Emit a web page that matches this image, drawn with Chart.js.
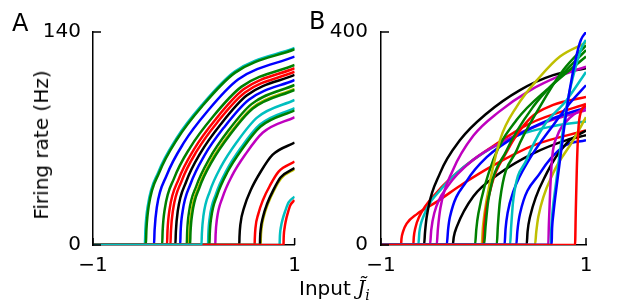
<!DOCTYPE html>
<html>
<head>
<meta charset="utf-8">
<script src="https://cdn.jsdelivr.net/npm/chart.js@4.4.0/dist/chart.umd.min.js"></script>
<style>
  body { margin: 0; background: #fff; }
  #wrap { position: relative; width: 617px; height: 308px; overflow: hidden; font-family: 'DejaVu Sans', sans-serif; color: #000; }
  canvas { position: absolute; top: 0; }
  .lbl { position: absolute; white-space: nowrap; line-height: 1; }
  .math { font-family: 'DejaVu Serif', serif; font-style: italic; }
</style>
</head>
<body>
<div id="wrap">
  <canvas id="chartA" width="310" height="308" style="left:0px"></canvas>
  <canvas id="chartB" width="317" height="308" style="left:300px"></canvas>
  <div class="lbl" style="left:12px; top:11px; font-size:24px">A</div>
  <div class="lbl" style="left:309px; top:9px; font-size:24px">B</div>
  <div class="lbl" style="left:41px; top:145px; font-size:20px; transform:translate(-50%,-50%) rotate(-90deg)">Firing rate (Hz)</div>
  <div class="lbl" style="left:299px; top:278px; font-size:20px">Input <span class="math">J&#771;</span><sub class="math" style="font-size:14px">i</sub></div>
</div>
<script>
// tick values
var xTicks = [-1, 1];
var yTicksA = [0, 140];
var yTicksB = [0, 400];

// Panel A: firing rate (Hz) vs input, one array per neuron, [input, rate]
var a00 = [[-1,0],[-0.486,0],[-0.48,10.4],[-0.456,25.9],[-0.352,47.9],[-0.174,69.9],[0.079,91.9],[0.406,114],[1,129.5]];
var a01 = [[-1,0],[-0.476,0],[-0.47,10.3],[-0.447,25.7],[-0.343,47.6],[-0.166,69.5],[0.085,91.4],[0.41,113.3],[1,128.7]];
var a02 = [[-1,0],[-0.395,0],[-0.389,9.9],[-0.367,24.8],[-0.269,45.8],[-0.102,66.9],[0.135,87.9],[0.442,108.9],[1,123.8]];
var a03 = [[-1,0],[-0.314,0],[-0.309,9.5],[-0.288,23.7],[-0.196,43.8],[-0.038,63.9],[0.185,84],[0.474,104.1],[1,118.3]];
var a04 = [[-1,0],[-0.266,0],[-0.261,9.3],[-0.241,23.2],[-0.152,43],[0,62.7],[0.215,82.5],[0.494,102.3],[1,116.2]];
var a05 = [[-1,0],[-0.232,0],[-0.227,9.1],[-0.207,22.8],[-0.121,42.1],[0.027,61.5],[0.236,80.9],[0.507,100.2],[1,113.9]];
var a06 = [[-1,0],[-0.183,0],[-0.178,8.9],[-0.159,22.4],[-0.077,41.4],[0.065,60.4],[0.267,79.4],[0.527,98.4],[1,111.8]];
var a07 = [[-1,0],[-0.135,0],[-0.131,8.7],[-0.112,21.7],[-0.033,40.1],[0.103,58.6],[0.296,77],[0.546,95.5],[1,108.5]];
var a08 = [[-1,0],[-0.07,0],[-0.066,8.4],[-0.049,21],[0.026,38.9],[0.155,56.8],[0.337,74.7],[0.572,92.6],[1,105.2]];
var a09 = [[-1,0],[-0.047,0],[-0.043,8.2],[-0.026,20.5],[0.047,38],[0.173,55.4],[0.351,72.8],[0.581,90.3],[1,102.6]];
var a10 = [[-1,0],[-0.037,0],[-0.033,8.2],[-0.016,20.4],[0.056,37.7],[0.181,55],[0.357,72.3],[0.585,89.7],[1,101.9]];
var a11 = [[-1,0],[0.076,0],[0.08,7.6],[0.095,19.1],[0.159,35.3],[0.27,51.5],[0.427,67.7],[0.63,83.9],[1,95.3]];
var a12 = [[-1,0],[0.141,0],[0.144,7.2],[0.158,18],[0.218,33.3],[0.321,48.6],[0.467,63.9],[0.656,79.2],[1,90]];
var a13 = [[-1,0],[0.155,0],[0.158,7.1],[0.172,17.7],[0.231,32.7],[0.332,47.8],[0.476,62.8],[0.662,77.9],[1,88.5]];
var a14 = [[-1,0],[0.213,0],[0.216,6.7],[0.229,16.8],[0.284,31.1],[0.378,45.4],[0.512,59.6],[0.685,73.9],[1,84]];
var a15 = [[-1,0],[0.451,0],[0.453,5.4],[0.462,13.5],[0.5,24.9],[0.566,36.3],[0.66,47.8],[0.78,59.2],[1,67.3]];
var a16 = [[-1,0],[0.603,0],[0.605,4.4],[0.611,11],[0.639,20.3],[0.686,29.6],[0.754,38.9],[0.841,48.2],[1,54.8]];
var a17 = [[-1,0],[0.663,0],[0.664,4],[0.67,10],[0.693,18.4],[0.734,26.9],[0.791,35.4],[0.865,43.8],[1,49.8]];
var a18 = [[-1,0],[0.656,0],[0.657,4],[0.663,10.1],[0.687,18.7],[0.728,27.3],[0.787,35.9],[0.862,44.5],[1,50.6]];
var a19 = [[-1,0],[0.851,0],[0.852,2.5],[0.854,6.4],[0.864,11.8],[0.882,17.2],[0.908,22.6],[0.94,28],[1,31.8]];
var a20 = [[-1,0],[0.89,0],[0.8905,2.4],[0.892,5.9],[0.9,11],[0.913,16],[0.932,21],[0.956,26],[1,29.6]];
var curvesA = [a00, a01, a02, a03, a04, a05, a06, a07, a08, a09, a10, a12, a13, a14, a15, a16, a17, a18, a19, a20, a11];
var colorsA = ['c','g','b','g','r','r','k','b','g','y','g','c','g','m','k','r','y','k','c','r','c'];

// Panel B
var b01 = [[-1,0],[-0.805,0],[-0.8,12],[-0.785,25],[-0.75,40],[-0.65,58],[-0.45,82],[-0.2,115],[0.1,150],[0.5,188],[1,215]];
var b02 = [[-1,0],[-0.685,0],[-0.68,15],[-0.665,32],[-0.63,52],[-0.45,100],[-0.2,145],[0.05,180],[0.45,228],[1,265]];
var b03 = [[-1,0],[-0.636,0],[-0.625,25],[-0.587,53],[-0.39,110],[-0.1,160],[0.324,205],[0.7,224],[1,232]];
var b04 = [[-1,0],[-0.58,0],[-0.57,25],[-0.554,53],[-0.424,135],[-0.229,197],[0.031,247],[0.356,291],[0.68,319],[1,332]];
var b05 = [[-1,0],[-0.522,0],[-0.51,28],[-0.48,60],[-0.35,110],[-0.1,160],[0.2,195],[0.6,230],[1,253]];
var b06 = [[-1,0],[-0.457,0],[-0.445,30],[-0.42,70],[-0.3,140],[-0.1,205],[0.15,250],[0.45,290],[0.75,318],[1,335]];
var b07 = [[-1,0],[-0.359,0],[-0.345,30],[-0.327,53],[-0.164,120],[0.031,165],[0.324,205],[0.68,238],[1,258]];
var b08 = [[-1,0],[-0.3,0],[-0.29,15],[-0.261,34],[-0.1,91],[0.161,135],[0.486,172],[0.811,197],[1,206]];
var b09 = [[-1,0],[-0.083,0],[-0.07,30],[-0.05,59],[0.096,160],[0.324,235],[0.649,297],[1,354]];
var b10 = [[-1,0],[-0.018,0],[-0.005,35],[0.03,84],[0.161,197],[0.324,260],[0.551,316],[0.746,354],[1,380]];
var b11 = [[-1,0],[-0.002,0],[0.005,30],[0.063,100],[0.226,175],[0.454,238],[0.68,263],[1,278]];
var b12 = [[-1,0],[0.005,0],[0.02,35],[0.047,84],[0.226,178],[0.486,260],[0.746,316],[1,366]];
var b13 = [[-1,0],[0.129,0],[0.14,35],[0.161,84],[0.324,178],[0.551,260],[0.78,329],[1,375]];
var b14 = [[-1,0],[0.205,0],[0.215,30],[0.235,60],[0.29,100],[0.454,163],[0.68,225],[0.85,268],[1,300]];
var b15 = [[-1,0],[0.259,0],[0.27,35],[0.29,84],[0.42,160],[0.583,222],[0.81,272],[1,325]];
var b16 = [[-1,0],[0.32,0],[0.33,25],[0.356,59],[0.551,135],[0.78,185],[1,197]];
var b17 = [[-1,0],[0.421,0],[0.43,25],[0.454,53],[0.617,135],[0.81,191],[1,215]];
var b18 = [[-1,0],[0.502,0],[0.515,25],[0.535,53],[0.68,135],[0.876,197],[1,240]];
var b19 = [[-1,0],[0.632,0],[0.638,40],[0.65,100],[0.67,165],[0.72,205],[0.85,240],[1,258]];
var b20 = [[-1,0],[0.656,0],[0.66,25],[0.672,60],[0.71,120],[0.76,195],[0.82,270],[0.9,335],[0.96,372],[1,385]];
var b21 = [[-1,0],[0.665,0],[0.668,25],[0.68,55],[0.72,120],[0.78,210],[0.84,290],[0.9,350],[0.95,385],[1,400]];
var b22 = [[-1,0],[0.893,0],[0.9,60],[0.91,140],[0.925,215],[0.95,250],[1,262]];
var curvesB = [b01, b02, b03, b04, b05, b06, b07, b08, b09, b10, b11, b12, b13, b14, b15, b16, b17, b18, b19, b20, b21, b22];
var colorsB = ['r','r','c','k','m','m','b','k','g','y','r','g','g','b','c','b','k','y','m','c','b','r'];

// matplotlib classic colours
var mpl = { b: '#0000ff', g: '#008000', r: '#ff0000', c: '#00bfbf', m: '#bf00bf', y: '#bfbf00', k: '#000000' };

Chart.defaults.font.family = "'DejaVu Sans', sans-serif";
Chart.defaults.font.size = 20;
Chart.defaults.color = '#000';

// ticks drawn inward, like the original axes
var inwardTicks = {
    id: 'inwardTicks',
    afterDraw: function (chart) {
        var ctx = chart.ctx, area = chart.chartArea, sx = chart.scales.x, sy = chart.scales.y;
        ctx.save();
        ctx.strokeStyle = '#000';
        ctx.lineWidth = 1.5;
        ctx.beginPath();
        sx.ticks.forEach(function (t) {
            var px = sx.getPixelForValue(t.value);
            ctx.moveTo(px, area.bottom);
            ctx.lineTo(px, area.bottom - 7);
        });
        sy.ticks.forEach(function (t) {
            var py = sy.getPixelForValue(t.value);
            ctx.moveTo(area.left, py);
            ctx.lineTo(area.left + 8, py);
        });
        ctx.stroke();
        ctx.restore();
    }
};

function tickText(v) {
    return v < 0 ? '\u2212' + (-v) : String(v);
}

function makeDatasets(curves, colors) {
    var n = curves.length;
    return curves.map(function (pts, i) {
        return {
            data: pts.map(function (p) { return { x: p[0], y: p[1] }; }),
            borderColor: mpl[colors[i]],
            borderWidth: 2.5,
            pointRadius: 0,
            fill: false,
            cubicInterpolationMode: 'monotone',
            order: n - i
        };
    });
}

function makeChart(id, curves, colors, yTicks, yWidth, rightPad, labelPad) {
    var config = {
        type: 'line',
        data: { datasets: makeDatasets(curves, colors) },
        options: {
            responsive: false,
            animation: false,
            events: [],
            layout: { padding: { left: 0, right: rightPad, top: 32, bottom: 23 } },
            plugins: { legend: { display: false }, tooltip: { enabled: false } },
            scales: {
                x: {
                    type: 'linear',
                    min: xTicks[0],
                    max: xTicks[xTicks.length - 1],
                    afterBuildTicks: function (s) { s.ticks = xTicks.map(function (v) { return { value: v }; }); },
                    afterFit: function (s) { s.height = 40; },
                    grid: { display: false, drawTicks: false },
                    border: { display: true, color: '#000', width: 1.5 },
                    ticks: { padding: 9, maxRotation: 0, callback: tickText }
                },
                y: {
                    min: yTicks[0],
                    max: yTicks[yTicks.length - 1],
                    afterBuildTicks: function (s) { s.ticks = yTicks.map(function (v) { return { value: v }; }); },
                    afterFit: function (s) { s.width = yWidth; },
                    grid: { display: false, drawTicks: false },
                    border: { display: true, color: '#000', width: 1.5 },
                    ticks: { padding: labelPad, callback: tickText }
                }
            }
        },
        plugins: [inwardTicks]
    };
    return new Chart(document.getElementById(id), config);
}

window.chartA = makeChart('chartA', curvesA, colorsA, yTicksA, 93, 12, 12);
window.chartB = makeChart('chartB', curvesB, colorsB, yTicksB, 81, 31, 13);
</script>
</body>
</html>
